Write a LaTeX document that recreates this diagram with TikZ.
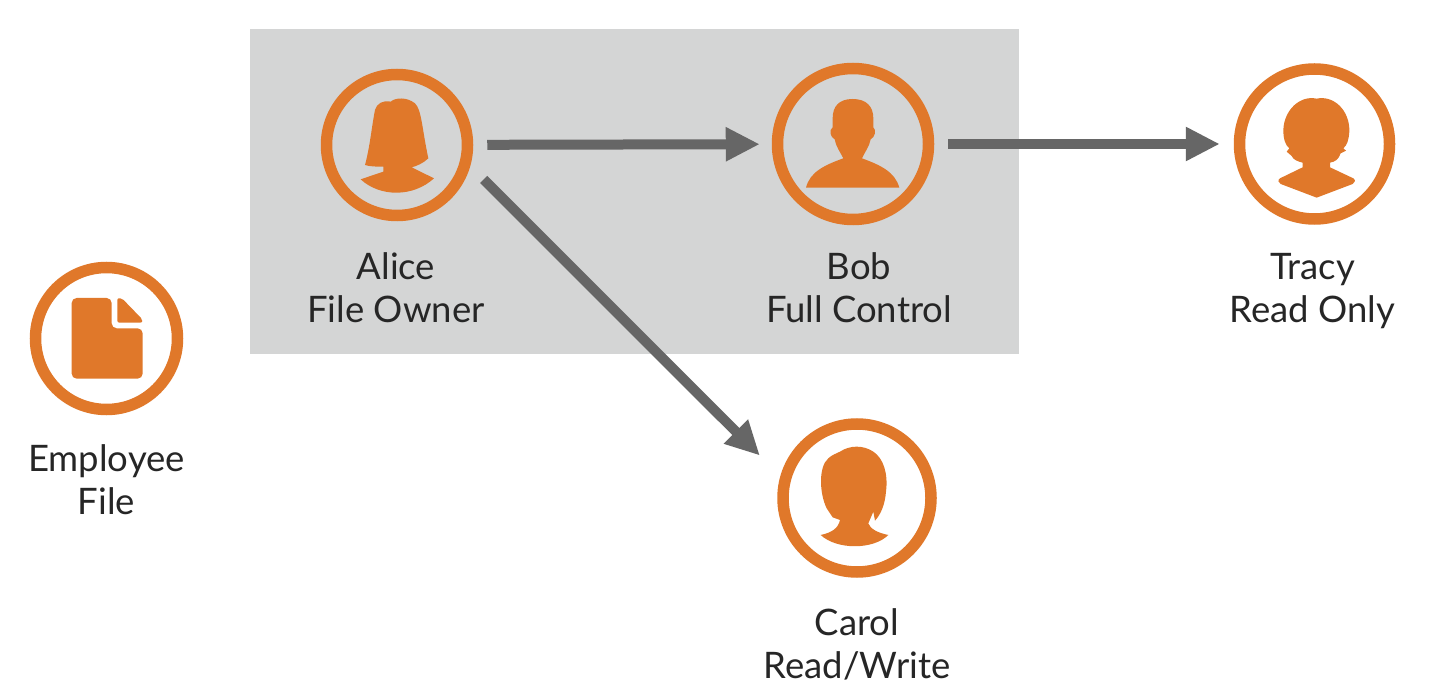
\documentclass[tikz,border=0pt]{standalone}
\usepackage{fontspec}
\setmainfont{Lato}
\usetikzlibrary{arrows.meta,positioning}
\definecolor{ringorange}{HTML}{E0782A}
\definecolor{boxgray}{HTML}{D4D5D5}
\definecolor{arrowgray}{HTML}{666666}
\definecolor{labelblack}{HTML}{262626}

\begin{document}
\begin{tikzpicture}[
    x = 1pt,
    y = -1pt,
    > = {Triangle[length=34pt,width=32pt]}, % arrow head style
    ring/.style = {circle, draw = ringorange, line width = 11.5pt, inner sep = 0pt, minimum size = #1},
    caption/.style = {align = center, font = \fontsize{36.5}{43}\selectfont, text = labelblack, inner sep = 0pt},
    link/.style = {->, draw = arrowgray, line width = 10pt, shorten > = 12pt, shorten < = 14pt},
    zoomed/.style = {shift = {#1}, scale = 0.3333}, % icons are traced on a 3x grid
    icon/.style = {fill = ringorange}
    ]

    \useasboundingbox (0,0) rectangle (1434,700);
    \fill[white] (0,0) rectangle (1434,700);
    \fill[boxgray] (250,29) rectangle (1019,354);

    \node[ring=141pt] (alice) at (397,145) {};
    \node[ring=151pt] (bob) at (853,144) {};
    \node[ring=150pt] (tracy) at (1314.5,144) {};
    \node[ring=148pt] (carol) at (857,498) {};
    \node[ring=142pt] (file) at (106.5,338.5) {};

    \node[caption, below=31pt of alice, xshift=-1pt] (alicetext) {Alice\\File Owner};
    \node[caption, below=27pt of bob, xshift=6pt] (bobtext) {Bob\\Full Control};
    \node[caption, below=28pt of tracy, xshift=-2pt] (tracytext) {Tracy\\Read Only};
    \node[caption, below=31pt of carol] (caroltext) {Carol\\Read/Write};
    \node[caption, below=29pt of file] (filetext) {Employee\\File};

    \draw[link] (alice) -- (bob);
    \draw[link, shorten > = 14pt] (bob) -- (tracy);
    \draw[link, shorten < = 19pt, shorten > = 29pt] (alice.-16.7) -- (carol.164.6);

    % alice
    \begin{scope}[zoomed={(300,50)}]
    \fill[icon] (272,155) .. controls (285,143) and (320,140) .. (345,160)
        .. controls (365,180) and (365,230) .. (385,325)
        .. controls (370,340) and (350,348) .. (335,352) -- (402,385)
        .. controls (340,442) and (240,442) .. (182,388) -- (250,365) -- (250,350)
        .. controls (230,350) and (210,350) .. (195,345)
        .. controls (210,290) and (215,230) .. (225,180)
        .. controls (230,160) and (250,150) .. (272,155) -- cycle;
    \end{scope}
    % bob
    \begin{scope}[zoomed={(760,50)}]
    \fill[icon] (278,147) .. controls (320,147) and (340,170) .. (340,205)
        -- (340,232) .. controls (350,240) and (345,262) .. (332,268)
        .. controls (328,290) and (315,305) .. (306,325)
        .. controls (360,345) and (405,365) .. (418,413) -- (138,413)
        .. controls (150,365) and (195,345) .. (250,325)
        .. controls (240,305) and (228,290) .. (224,268)
        .. controls (211,262) and (206,240) .. (218,232) -- (218,205)
        .. controls (218,170) and (236,147) .. (278,147) -- cycle;
    \end{scope}
    % tracy
    \begin{scope}[zoomed={(1220,50)}]
    \fill[icon] (290,146) .. controls (340,135) and (390,180) .. (388,245)
        .. controls (386,270) and (382,285) .. (370,295) -- (378,302) -- (362,310)
        .. controls (355,330) and (345,335) .. (330,338) -- (330,352) -- (400,385)
        .. controls (408,390) and (405,398) .. (398,402)
        -- (290,443) -- (182,402) .. controls (175,398) and (172,390) .. (180,385)
        -- (248,352) -- (248,338)
        .. controls (235,335) and (220,330) .. (215,318) -- (200,305) -- (208,295)
        .. controls (195,285) and (190,265) .. (190,240)
        .. controls (192,180) and (240,135) .. (290,146) -- cycle;
    \end{scope}
    % carol
    \begin{scope}[zoomed={(760,410)}]
    \fill[icon] (240,125) .. controls (270,105) and (310,105) .. (340,125)
        .. controls (370,145) and (385,190) .. (378,245)
        .. controls (375,280) and (365,310) .. (345,332) -- (340,305) -- (325,340)
        .. controls (330,355) and (350,368) .. (385,375)
        .. controls (340,420) and (230,420) .. (182,375)
        .. controls (215,368) and (235,355) .. (240,330) -- (218,322) -- (200,295)
        .. controls (178,250) and (175,170) .. (205,145)
        .. controls (215,135) and (230,130) .. (240,125) -- cycle;
    \end{scope}
    % employee file
    \begin{scope}[zoomed={(15,250)}]
    \fill[icon, rounded corners=5pt] (170,144) -- (290,144) -- (290,235) -- (383,235) -- (383,386) -- (170,386) -- cycle;
    \fill[icon, rounded corners=2pt] (307,144) -- (322,146) -- (382,208) -- (382,218) -- (307,218) -- cycle;
    \end{scope}
\end{tikzpicture}
\end{document}
